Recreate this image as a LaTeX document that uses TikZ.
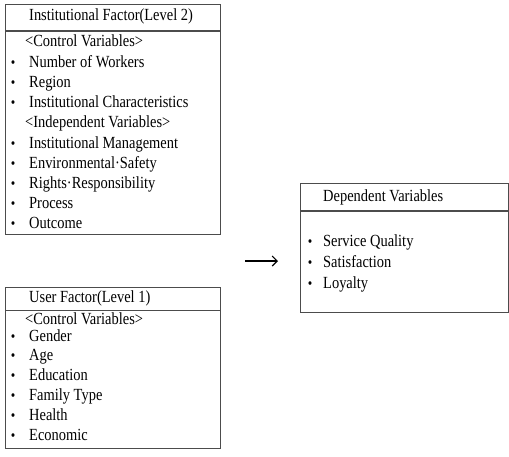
\documentclass[tikz,border=0pt]{standalone}
\usepackage{fontspec}
\setmainfont{Liberation Serif}[FakeStretch=0.85]
\usetikzlibrary{arrows.meta}
\begin{document}
\begin{tikzpicture}[x=1pt,y=-1pt,
  font=\fontsize{17}{19}\selectfont,
  box/.style={draw=black!70, line width=0.9pt, inner sep=0pt, anchor=north west},
  divider/.style={draw=black!70, line width=1.3pt},
  txt/.style={anchor=west, inner sep=0pt, text height=10.5pt, text depth=3pt},
  bul/.style={anchor=center, inner sep=0pt, font=\fontsize{15}{15}\selectfont},
  conn/.style={line width=1.1pt, -{Straight Barb[length=5pt,width=10pt,line width=1.1pt]}}]
\useasboundingbox (0,0) rectangle (509,456);

% Box 1: Institutional factor
\node[box, minimum width=215pt, minimum height=230pt] (inst) at (5,4) {};
\draw[divider] (5,31) -- (220,31);
\node[txt] (insth) at (29,17) {Institutional Factor(Level 2)};
\node[txt] (instc) at (25,43) {<Control Variables>};
\foreach \y/\t/\n in {64/Number of Workers/a, 84/Region/b, 104/Institutional Characteristics/c}{
  \node[bul] (ib\n) at (13,\y) {\textbullet};
  \node[txt] (it\n) at (29,\y) {\t};
}
\node[txt] (insti) at (25,124) {<Independent Variables>};
\foreach \y/\t/\n in {145/Institutional Management/d, 165/Environmental·Safety/e, 185/Rights·Responsibility/f, 205/Process/g, 225/Outcome/h}{
  \node[bul] (ib\n) at (13,\y) {\textbullet};
  \node[txt] (it\n) at (29,\y) {\t};
}

% Box 2: User factor
\node[box, minimum width=215pt, minimum height=161pt] (user) at (5,287) {};
\draw[divider] (5,310.5) -- (220,310.5);
\node[txt] (userh) at (29,299) {User Factor(Level 1)};
\node[txt] (userc) at (25,321) {<Control Variables>};
\foreach \y/\t/\n in {338/Gender/a, 357/Age/b, 377/Education/c, 397/Family Type/d, 417/Health/e, 437/Economic/f}{
  \node[bul] (ub\n) at (13,\y) {\textbullet};
  \node[txt] (ut\n) at (29,\y) {\t};
}

% Box 3: Dependent variables
\node[box, minimum width=208pt, minimum height=129pt] (dep) at (300,183) {};
\draw[divider] (300,211) -- (508,211);
\node[txt] (deph) at (323,198) {Dependent Variables};
\foreach \y/\t/\n in {243/Service Quality/a, 264/Satisfaction/b, 285/Loyalty/c}{
  \node[bul] (db\n) at (310,\y) {\textbullet};
  \node[txt] (dt\n) at (323,\y) {\t};
}

% Arrow
\coordinate (arrS) at (245,261);
\coordinate (arrE) at (278,261);
\draw[conn] (arrS) -- (arrE);
\end{tikzpicture}
\end{document}
